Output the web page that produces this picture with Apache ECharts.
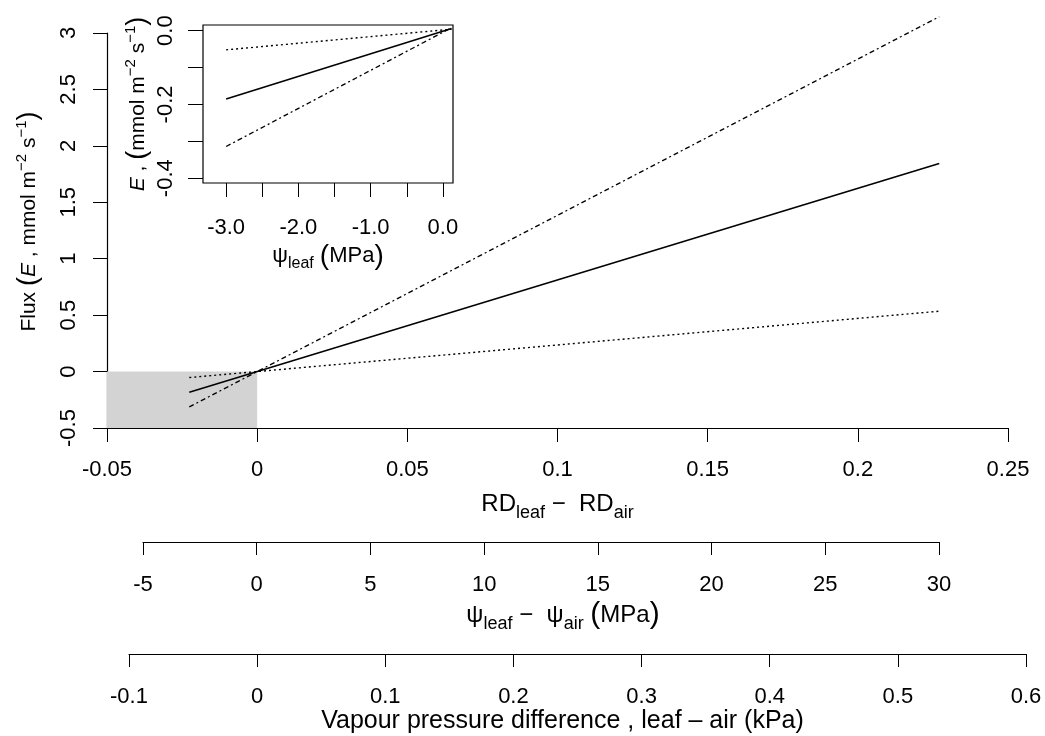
<!DOCTYPE html>
<html>
<head>
<meta charset="utf-8">
<script src="https://cdn.jsdelivr.net/npm/echarts@6/dist/echarts.min.js"></script>
<style>
  html, body { margin: 0; padding: 0; background: #fff; }
  #chart { width: 1045px; height: 736px; }
</style>
</head>
<body>
<div id="chart"></div>
<script>
// main panel: flux vs RD difference
const rdX = [-0.0226, 0.2271]
const eHigh = [-0.313, 3.144]
const eMid = [-0.184, 1.844]
const eLow = [-0.053, 0.535]

// shaded quadrant (negative RD, negative flux)
const shadeX = [-0.05, 0]
const shadeY = [-0.5, 0]

// inset: flux vs leaf water potential
const psiLeaf = [-3.0, 0.12]
const insetHigh = [-0.314, 0.008]
const insetMid = [-0.185, 0.006]
const insetLow = [-0.052, 0.004]

const insetXTicks = [-3.0, -2.5, -2.0, -1.5, -1.0, -0.5, 0.0]
const insetXLabels = [-3.0, -2.0, -1.0, 0.0]
const insetYTicks = [-0.4, -0.3, -0.2, -0.1, 0.0]
const insetYLabels = [-0.4, -0.2, 0.0]

const FONT = 'Liberation Sans'
const FS = 22
const pair = (xs, ys) => xs.map((x, i) => [x, ys[i]])

const base = { fontFamily: FONT, fontSize: FS, color: '#000' }
const mkRich = (fs, lh) => ({
  n: { fontFamily: FONT, fontSize: fs, color: '#000', lineHeight: lh },
  i: { fontFamily: FONT, fontSize: fs, color: '#000', lineHeight: lh, fontStyle: 'italic' },
  p: { fontFamily: FONT, fontSize: fs + 6, color: '#000', lineHeight: lh },
  sub: { fontFamily: FONT, fontSize: fs - 6, color: '#000', lineHeight: fs - 6, padding: [fs - 6, 0, 0, 0] },
  sup: { fontFamily: FONT, fontSize: fs - 6, color: '#000', lineHeight: fs - 6, padding: [0, 0, fs - 6, 0] }
})
const richY = mkRich(21, 28)
const richX = mkRich(24, 30)
const richV = mkRich(25, 30)
const richIn = mkRich(22, 28)

const tickStyle = { lineStyle: { color: '#000', width: 1 } }

const chart = echarts.init(document.getElementById('chart'), null, { renderer: 'canvas' })

const lineSeries = (name, xi, data, type, width) => ({
  name,
  type: 'line',
  xAxisIndex: xi,
  yAxisIndex: xi,
  data,
  showSymbol: false,
  silent: true,
  clip: false,
  lineStyle: { color: '#000', width, type },
  z: 5
})

const option = {
  animation: false,
  backgroundColor: '#fff',
  grid: [
    { left: 107, top: 33, width: 901, height: 395 },
    { left: 143, top: 541, width: 796, height: 1 },
    { left: 129, top: 653, width: 897, height: 1 },
    { left: 203, top: 25, width: 250, height: 158, show: true, borderColor: '#000', borderWidth: 1.2, backgroundColor: 'transparent' }
  ],
  xAxis: [
    {
      gridIndex: 0, type: 'value', min: -0.05, max: 0.25, interval: 0.05,
      axisLine: { show: true, onZero: false, lineStyle: { color: '#000', width: 1.2 } },
      axisTick: { show: true, inside: false, length: 14, ...tickStyle },
      axisLabel: { ...base, margin: 31 },
      splitLine: { show: false },
      name: '{n|RD}{sub|leaf}{n| −  RD}{sub|air}',
      nameLocation: 'middle', nameGap: 61,
      nameTextStyle: { ...base, rich: richX }
    },
    {
      gridIndex: 1, type: 'value', min: -5, max: 30, interval: 5,
      axisLine: { show: true, onZero: false, lineStyle: { color: '#000', width: 1.2 } },
      axisTick: { show: true, length: 13, ...tickStyle },
      axisLabel: { ...base, margin: 32 },
      splitLine: { show: false },
      name: '{n|ψ}{sub|leaf}{n| −  ψ}{sub|air}{n| }{p|(}{n|MPa}{p|)}',
      nameLocation: 'middle', nameGap: 54,
      nameTextStyle: { ...base, rich: richX, padding: [0, 0, 0, 44] }
    },
    {
      gridIndex: 2, type: 'value', min: -0.1, max: 0.6, interval: 0.1,
      axisLine: { show: true, onZero: false, lineStyle: { color: '#000', width: 1.2 } },
      axisTick: { show: true, length: 13, ...tickStyle },
      axisLabel: { ...base, margin: 32 },
      splitLine: { show: false },
      name: '{n|Vapour pressure difference , leaf – air (kPa)}',
      nameLocation: 'middle', nameGap: 45,
      nameTextStyle: { ...base, rich: richV, padding: [0, 30, 0, 0] }
    },
    {
      gridIndex: 3, type: 'value', min: -3.32, max: 0.14,
      axisLine: { show: false, onZero: false },
      axisTick: { show: true, length: 14, customValues: insetXTicks, ...tickStyle },
      axisLabel: { ...base, margin: 34, customValues: insetXLabels, formatter: v => v.toFixed(1) },
      splitLine: { show: false },
      name: '{n|ψ}{sub|leaf}{n| }{p|(}{n|MPa}{p|)}',
      nameLocation: 'middle', nameGap: 50,
      nameTextStyle: { ...base, rich: richIn }
    }
  ],
  yAxis: [
    {
      gridIndex: 0, type: 'value', min: -0.5, max: 3, interval: 0.5,
      axisLine: { show: true, onZero: false, lineStyle: { color: '#000', width: 1.2 } },
      axisTick: { show: true, length: 14, ...tickStyle },
      axisLabel: { ...base, rotate: 90, margin: 27 },
      splitLine: { show: false },
      name: '{n|Flux }{p|(}{i|E}{n| , mmol m}{sup|−2}{n| s}{sup|−1}{p|)}',
      nameLocation: 'middle', nameRotate: 90, nameGap: 64,
      nameTextStyle: { ...base, rich: richY, padding: [0, 0, 0, 18] }
    },
    { gridIndex: 1, type: 'value', show: false },
    { gridIndex: 2, type: 'value', show: false },
    {
      gridIndex: 3, type: 'value', min: -0.413, max: 0.0154,
      axisLine: { show: false, onZero: false },
      axisTick: { show: true, length: 15, customValues: insetYTicks, ...tickStyle },
      axisLabel: { ...base, rotate: 90, margin: 26, customValues: insetYLabels, formatter: v => v.toFixed(1) },
      splitLine: { show: false },
      name: '{i|E}{n| , }{p|(}{n|mmol m}{sup|−2}{n| s}{sup|−1}{p|)}',
      nameLocation: 'middle', nameRotate: 90, nameGap: 51,
      nameTextStyle: { ...base, rich: richY }
    }
  ],
  series: [
    {
      ...lineSeries('high', 0, pair(rdX, eHigh), [5, 3, 2, 3], 1.3),
      markArea: {
        silent: true,
        itemStyle: { color: '#d3d3d3' },
        data: [[{ coord: [shadeX[0], shadeY[0]] }, { coord: [shadeX[1], shadeY[1]] }]]
      }
    },
    lineSeries('mid', 0, pair(rdX, eMid), 'solid', 1.6),
    lineSeries('low', 0, pair(rdX, eLow), [2, 3], 1.4),
    lineSeries('insetHigh', 3, pair(psiLeaf, insetHigh), [5, 3, 2, 3], 1.3),
    lineSeries('insetMid', 3, pair(psiLeaf, insetMid), 'solid', 1.6),
    lineSeries('insetLow', 3, pair(psiLeaf, insetLow), [2, 3], 1.4)
  ]
}

chart.setOption(option)
</script>
</body>
</html>
